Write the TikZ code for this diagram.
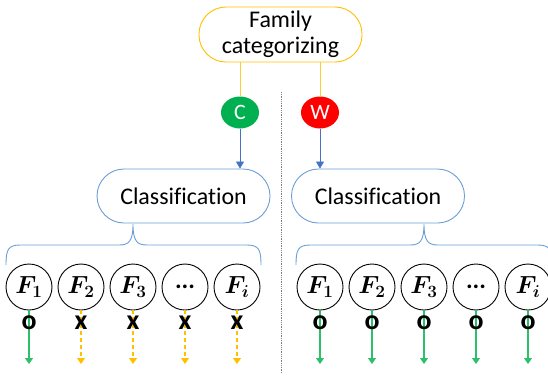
\documentclass[tikz,border=0pt]{standalone}
\usepackage{amsmath}
\usepackage[no-math]{fontspec}
\setmainfont[Ligatures=NoCommon]{Carlito}
\usetikzlibrary{arrows.meta,shapes.geometric}

\definecolor{gold}{HTML}{FFC000}
\definecolor{okgreen}{HTML}{00B050}
\definecolor{arrgreen}{HTML}{2EBF6A}
\definecolor{clsblue}{HTML}{6B9ED6}
\definecolor{arrblue}{HTML}{4472C4}

\tikzset{
    pill/.style={draw=clsblue, line width=0.9bp, rounded corners=27bp, minimum width=173bp,
        minimum height=54bp, align=center, font=\fontsize{24}{26}\selectfont},
    flag/.style={ellipse, draw=none, minimum width=38bp, minimum height=32bp, inner sep=0pt,
        text=white, font=\fontsize{22}{22}\selectfont},
    feat/.style={circle, draw, line width=0.9bp, minimum size=46bp, inner sep=0pt,
        font=\fontsize{25}{25}\selectfont\boldmath},
    verdict/.style={inner sep=0pt, font=\fontsize{28}{28}\selectfont\bfseries},
    pass/.style={draw=arrgreen, line width=1.2bp, -{Triangle[length=6bp,width=8bp]}},
    drop/.style={draw=gold, line width=1.2bp, dash pattern=on 4bp off 3bp, -{Triangle[length=6bp,width=8bp]}},
    down/.style={draw=arrblue, line width=0.8bp, -{Triangle[length=7bp,width=8bp]}}
}

\begin{document}
\begin{tikzpicture}[x=1bp, y=-1bp]
    \useasboundingbox (0,0) rectangle (548,375);

    \node[pill, draw=gold, minimum width=163bp, minimum height=55bp] (fam) at (280.5,34.5) {Family\\categorizing};
    \node[flag, fill=okgreen] (c) at (240,112.5) {C};
    \node[flag, fill=red] (w) at (320,112.5) {W};
    \draw[gold!80, line width=0.9bp] (c.north |- fam.south) -- (c.north);
    \draw[gold!80, line width=0.9bp] (w.north |- fam.south) -- (w.north);

    % split between the two branches
    \draw[gray, line width=0.8bp, densely dotted] (281,92) -- (281,373);

    \node[pill] (clsL) at (183.5,196) {Classification};
    \node[pill] (clsR) at (378,196) {Classification};
    \draw[down] (c.south) -- (c.south |- clsL.north);
    \draw[down] (w.south) -- (w.south |- clsR.north);

    % braces under the classifiers
    \foreach \a/\t/\b in {6/133/261, 296/424/552}
        \draw[clsblue, line width=0.9bp] (\a,265) .. controls (\a,250) and (\a+2,245) .. (\a+14,245)
            -- (\t-14,245) .. controls (\t-4,245) and (\t,241) .. (\t,224)
            .. controls (\t,241) and (\t+4,245) .. (\t+14,245)
            -- (\b-14,245) .. controls (\b-2,245) and (\b,250) .. (\b,265);

    % left branch: only F1 kept
    \foreach \i/\x/\lab in {1/29/F_1, 2/81/F_2, 3/133/F_3, 4/185/\textbf{...}, 5/237/F_i} {
        \node[feat] (l\i) at (\x,287) {$\lab$};
        \coordinate (le\i) at (\x,364);
    }
    \draw[pass] (l1) -- (le1);
    \node[verdict] (lm1) at (29,323) {o};
    \foreach \i/\x in {2/81, 3/133, 4/185, 5/237} {
        \draw[drop] (l\i) -- (le\i);
        \node[verdict] (lm\i) at (\x,323) {x};
    }

    % right branch: all kept
    \foreach \i/\x/\lab in {1/320/F_1, 2/372/F_2, 3/424/F_3, 4/476/\textbf{...}, 5/528/F_i} {
        \node[feat] (r\i) at (\x,287) {$\lab$};
        \coordinate (re\i) at (\x,364);
        \draw[pass] (r\i) -- (re\i);
        \node[verdict] (rm\i) at (\x,323) {o};
    }
\end{tikzpicture}
\end{document}
